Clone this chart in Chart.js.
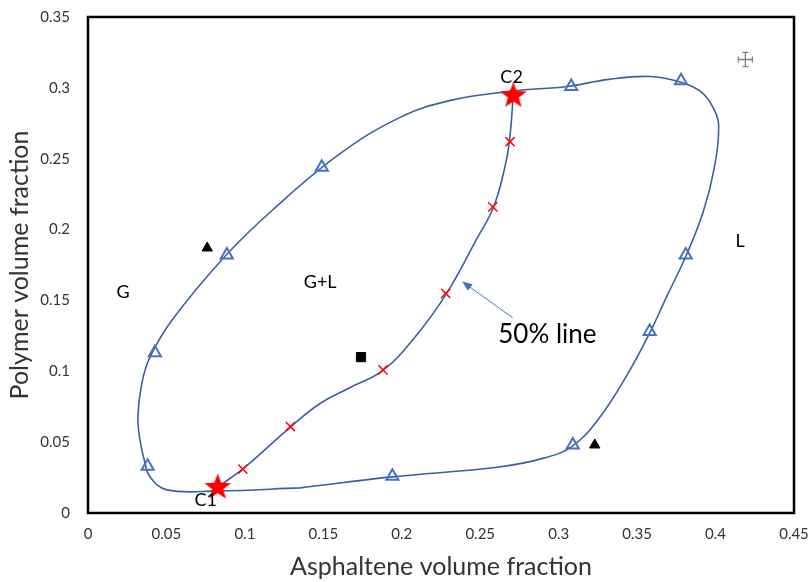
<!DOCTYPE html>
<html>
<head>
<meta charset="utf-8">
<script src="https://cdn.jsdelivr.net/npm/chart.js@4/dist/chart.umd.min.js"></script>
<style>
  html, body { margin: 0; padding: 0; background: #fff; }
  #wrap { width: 809px; height: 582px; }
</style>
</head>
<body>
<div id="wrap"><canvas id="myChart"></canvas></div>
<script>
// phase envelope (closed loop)
const envX = [0.135, 0.194, 0.262, 0.291, 0.309, 0.326, 0.343, 0.358, 0.369, 0.381, 0.392, 0.399, 0.402, 0.399, 0.391, 0.378, 0.358, 0.332, 0.3055, 0.2705, 0.2304, 0.1986, 0.160, 0.1178, 0.0872, 0.0535, 0.0395, 0.0344, 0.0318, 0.0331, 0.0363, 0.0395, 0.0503, 0.0827, 0.135];
const envY = [0.0177, 0.0255, 0.0325, 0.0389, 0.0474, 0.0672, 0.0962, 0.127, 0.153, 0.181, 0.212, 0.2425, 0.273, 0.285, 0.297, 0.304, 0.308, 0.306, 0.301, 0.2977, 0.291, 0.279, 0.253, 0.214, 0.181, 0.136, 0.110, 0.092, 0.068, 0.0516, 0.0354, 0.0255, 0.0163, 0.0156, 0.0177];

// 50% line from C1 to C2
const halfX = [0.0827, 0.0987, 0.1292, 0.1477, 0.1668, 0.1878, 0.2081, 0.2285, 0.2476, 0.2584, 0.2654, 0.2686, 0.2711];
const halfY = [0.0184, 0.0311, 0.0608, 0.0771, 0.0884, 0.1004, 0.1237, 0.1548, 0.193, 0.2156, 0.2425, 0.2623, 0.2948];

// open triangles on the envelope
const triX = [0.038, 0.0426, 0.0885, 0.149, 0.308, 0.378, 0.381, 0.358, 0.309, 0.194];
const triY = [0.033, 0.113, 0.182, 0.244, 0.301, 0.305, 0.182, 0.128, 0.048, 0.026];

// red crosses on the 50% line
const crossX = [0.0987, 0.129, 0.188, 0.228, 0.258, 0.269];
const crossY = [0.031, 0.061, 0.101, 0.155, 0.216, 0.262];

// critical points C1, C2
const critX = [0.0827, 0.2711];
const critY = [0.0184, 0.2948];

// black triangles and square
const blackTriX = [0.076, 0.323];
const blackTriY = [0.187, 0.048];
const squareX = [0.174];
const squareY = [0.110];

// error bar sample point
const errPtX = [0.419];
const errPtY = [0.320];
const errX = [0.0045];
const errY = [0.005];

// text labels
const labelText = ['G', 'G+L', 'L', 'C2', 'C1', '50% line'];
const labelX = [0.0223, 0.148, 0.4156, 0.270, 0.075, 0.2928];
const labelY = [0.156, 0.163, 0.192, 0.3075, 0.0092, 0.126];
const arrowFrom = [0.2706, 0.1379];
const arrowTo = [0.2385, 0.1633];

const xTicks = [0, 0.05, 0.1, 0.15, 0.2, 0.25, 0.3, 0.35, 0.4, 0.45];
const yTicks = [0, 0.05, 0.1, 0.15, 0.2, 0.25, 0.3, 0.35];

const pts = (xs, ys) => xs.map((x, i) => ({ x: x, y: ys[i] }));

// filled red star used as point style
const star = document.createElement('canvas');
star.width = 30; star.height = 30;
(function () {
  const c = star.getContext('2d');
  c.beginPath();
  for (let i = 0; i < 10; i++) {
    const r = i % 2 === 0 ? 14 : 5.8;
    const a = -Math.PI / 2 + i * Math.PI / 5;
    const px = 15 + r * Math.cos(a), py = 15.5 + r * Math.sin(a);
    if (i === 0) c.moveTo(px, py); else c.lineTo(px, py);
  }
  c.closePath();
  c.fillStyle = '#FF0000';
  c.fill();
})();

const boxPlugin = {
  id: 'box',
  afterDraw(chart) {
    const { ctx, chartArea: a, scales } = chart;
    const xs = scales.x, ys = scales.y;
    ctx.save();
    ctx.strokeStyle = '#000';
    ctx.lineWidth = 2.5;
    ctx.strokeRect(a.left, a.top, a.right - a.left, a.bottom - a.top);

    // error bar
    ctx.strokeStyle = '#808080';
    ctx.lineWidth = 1.3;
    errPtX.forEach((ex, i) => {
      const cx = xs.getPixelForValue(ex), cy = ys.getPixelForValue(errPtY[i]);
      const l = xs.getPixelForValue(ex - errX[i]), r = xs.getPixelForValue(ex + errX[i]);
      const t = ys.getPixelForValue(errPtY[i] + errY[i]), b = ys.getPixelForValue(errPtY[i] - errY[i]);
      ctx.beginPath();
      ctx.moveTo(l, cy); ctx.lineTo(r, cy);
      ctx.moveTo(cx, t); ctx.lineTo(cx, b);
      ctx.moveTo(l, cy - 3); ctx.lineTo(l, cy + 3);
      ctx.moveTo(r, cy - 3); ctx.lineTo(r, cy + 3);
      ctx.moveTo(cx - 3, t); ctx.lineTo(cx + 3, t);
      ctx.moveTo(cx - 3, b); ctx.lineTo(cx + 3, b);
      ctx.stroke();
    });

    // arrow for 50% line
    const x0 = xs.getPixelForValue(arrowFrom[0]), y0 = ys.getPixelForValue(arrowFrom[1]);
    const x1 = xs.getPixelForValue(arrowTo[0]), y1 = ys.getPixelForValue(arrowTo[1]);
    const ang = Math.atan2(y1 - y0, x1 - x0);
    ctx.strokeStyle = '#4472C4';
    ctx.fillStyle = '#4472C4';
    ctx.lineWidth = 1;
    ctx.beginPath();
    ctx.moveTo(x0, y0);
    ctx.lineTo(x1 - 6 * Math.cos(ang), y1 - 6 * Math.sin(ang));
    ctx.stroke();
    ctx.beginPath();
    ctx.moveTo(x1, y1);
    ctx.lineTo(x1 - 10 * Math.cos(ang) + 4 * Math.sin(ang), y1 - 10 * Math.sin(ang) - 4 * Math.cos(ang));
    ctx.lineTo(x1 - 10 * Math.cos(ang) - 4 * Math.sin(ang), y1 - 10 * Math.sin(ang) + 4 * Math.cos(ang));
    ctx.closePath();
    ctx.fill();

    // text labels
    ctx.fillStyle = '#000';
    ctx.textAlign = 'center';
    ctx.textBaseline = 'middle';
    labelText.forEach((t, i) => {
      ctx.font = (t === '50% line' ? '26px' : '18px') + ' Lato, sans-serif';
      ctx.fillText(t, xs.getPixelForValue(labelX[i]), ys.getPixelForValue(labelY[i]));
    });
    ctx.restore();
  }
};

const fmt = v => parseFloat(Number(v).toFixed(2)).toString();

const ctx = document.getElementById('myChart').getContext('2d');
const myChart = new Chart(ctx, {
  type: 'scatter',
  data: {
    datasets: [
      { data: pts(critX, critY), pointStyle: star, pointRadius: 14 },
      { data: pts(blackTriX, blackTriY), pointStyle: 'triangle', pointRadius: 6, backgroundColor: '#000', borderColor: '#000', borderWidth: 1 },
      { data: pts(squareX, squareY), pointStyle: 'rect', pointRadius: 6.5, backgroundColor: '#000', borderColor: '#000', borderWidth: 1 },
      { data: pts(crossX, crossY), pointStyle: 'crossRot', pointRadius: 6.5, borderColor: '#FF0000', borderWidth: 1.5 },
      { data: pts(triX, triY), pointStyle: 'triangle', pointRadius: 7, backgroundColor: 'rgba(255,255,255,0)', borderColor: '#4472C4', borderWidth: 2 },
      { data: pts(halfX, halfY), showLine: true, tension: 0.4, pointRadius: 0, borderColor: '#3A5FA3', borderWidth: 1.6 },
      { data: pts(envX, envY), showLine: true, tension: 0.4, pointRadius: 0, borderColor: '#3A5FA3', borderWidth: 1.6 }
    ]
  },
  options: {
    responsive: true,
    maintainAspectRatio: false,
    animation: false,
    layout: { padding: { top: 17, right: 14, left: 0, bottom: 0 } },
    plugins: { legend: { display: false }, tooltip: { enabled: false } },
    scales: {
      x: {
        type: 'linear', min: 0, max: 0.45,
        afterBuildTicks: s => { s.ticks = xTicks.map(v => ({ value: v })); },
        afterFit: s => { s.height = 69; s.paddingLeft = 0; s.paddingRight = 0; },
        grid: { display: false, drawTicks: false },
        border: { display: false },
        ticks: { callback: fmt, padding: 12, color: '#333', font: { family: 'Lato', size: 15 }, maxRotation: 0 },
        title: { display: true, text: 'Asphaltene volume fraction', color: '#333', font: { family: 'Lato', size: 25 }, padding: { top: 4, bottom: 0 } }
      },
      y: {
        type: 'linear', min: 0, max: 0.35,
        afterBuildTicks: s => { s.ticks = yTicks.map(v => ({ value: v })); },
        afterFit: s => { s.width = 88; s.paddingTop = 0; s.paddingBottom = 0; },
        grid: { display: false, drawTicks: false },
        border: { display: false },
        ticks: { callback: fmt, padding: 18, color: '#333', font: { family: 'Lato', size: 15 } },
        title: { display: true, text: 'Polymer volume fraction', color: '#333', font: { family: 'Lato', size: 25 }, padding: { top: 5, bottom: 4 } }
      }
    }
  },
  plugins: [boxPlugin]
});
</script>
</body>
</html>
